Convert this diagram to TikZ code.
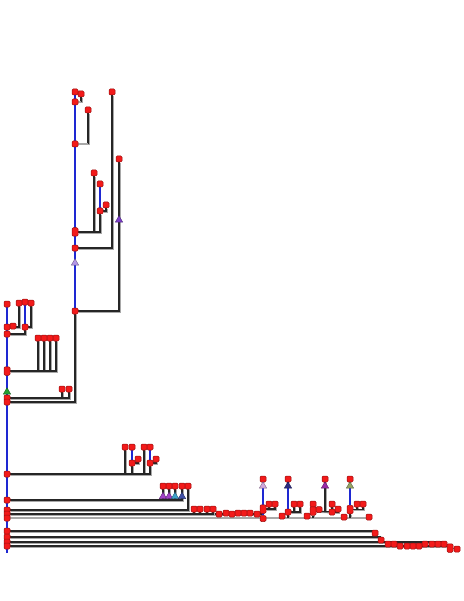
\documentclass[tikz,border=0pt]{standalone}
\usetikzlibrary{shapes.geometric, backgrounds}

\definecolor{leafRed}{HTML}{F21A1A}
\definecolor{leafRim}{HTML}{9A1010}
\definecolor{branchBlue}{HTML}{1E28D2}
\definecolor{branchDark}{HTML}{262626}
\definecolor{branchShade}{HTML}{A8A8A8}
\definecolor{triPurple}{HTML}{7A3CC8}
\definecolor{triLilac}{HTML}{B496E6}
\definecolor{triGreen}{HTML}{22A030}
\definecolor{triViolet}{HTML}{A040C8}
\definecolor{triTeal}{HTML}{3CA0C8}
\definecolor{triBlue}{HTML}{4050A8}
\definecolor{triPink}{HTML}{D2A6DC}
\definecolor{triNavy}{HTML}{2C2C80}
\definecolor{triMagenta}{HTML}{9A2AA8}
\definecolor{triOlive}{HTML}{96A464}

\tikzset{
  leaf/.style={rectangle, rounded corners=1.2pt, fill=leafRed, draw=leafRim, line width=0.5pt, minimum size=6pt, inner sep=0pt},
  hub/.style={leaf, minimum height=8.5pt},
  tri/.style={regular polygon, regular polygon sides=3, minimum size=8.5pt, inner sep=0pt, fill=#1, draw=#1!60!black, line width=0.4pt},
  br/.style={draw=branchDark, line width=1.3pt, preaction={draw=branchShade, line width=1.3pt, transform canvas={xshift=0.9pt, yshift=-0.9pt}}},
  bb/.style={draw=branchBlue, line width=1.3pt},
  bg/.style={draw=branchShade, line width=1.3pt},
}

\begin{document}
\begin{tikzpicture}[x=1pt, y=-1pt]
    \useasboundingbox (0,0) rectangle (463,601);

    % upper clade
    \node[leaf] (a0) at (75,92) {};
    \node[leaf] (a1) at (81,94) {};
    \node[leaf] (a2) at (75,102) {};
    \node[leaf] (a3) at (88,110) {};
    \node[leaf] (a4) at (75,144) {};
    \node[leaf] (a5) at (112,92) {};
    \node[leaf] (a6) at (119,159) {};
    \node[tri=triPurple] (a7) at (119,220) {};
    \node[leaf] (a8) at (94,173) {};
    \node[leaf] (a9) at (100,184) {};
    \node[leaf] (a10) at (106,205) {};
    \node[leaf] (a11) at (100,211) {};
    \node[hub] (a12) at (75,232) {};
    \node[leaf] (a13) at (75,248) {};
    \node[tri=triLilac] (a14) at (75,263) {};
    \node[leaf] (a15) at (75,311) {};

    % trunk
    \node[leaf] (k0) at (7,304) {};
    \node[leaf] (k1) at (7,327) {};
    \node[leaf] (k2) at (7,334) {};
    \node[hub] (k4) at (7,371) {};
    \node[tri=triGreen] (k5) at (7,392) {};
    \node[leaf] (k6) at (7,398) {};
    \node[leaf] (k3) at (7,402) {};
    \node[leaf] (k7) at (7,474) {};
    \node[leaf] (k8) at (7,500) {};
    \node[leaf] (k9) at (7,510) {};
    \node[leaf] (k10) at (7,514) {};
    \node[leaf] (k11) at (7,518) {};
    \node[leaf] (k12) at (7,531) {};
    \node[leaf] (k13) at (7,537) {};
    \node[leaf] (k14) at (7,542) {};
    \node[leaf] (k15) at (7,546) {};

    % left clade
    \node[leaf] (b1) at (19,303) {};
    \node[leaf] (b2) at (13,326) {};
    \node[leaf] (b3) at (25,302) {};
    \node[leaf] (b4) at (31,303) {};
    \node[leaf] (b5) at (25,327) {};
    \foreach \i/\x in {6/38, 7/44, 8/50, 9/56}
        \node[leaf] (b\i) at (\x,338) {};
    \node[leaf] (b10) at (62,389) {};
    \node[leaf] (b11) at (69,389) {};

    % middle clade
    \node[leaf] (c1) at (125,447) {};
    \node[leaf] (c2) at (132,447) {};
    \node[leaf] (c3) at (132,463) {};
    \node[leaf] (c4) at (138,459) {};
    \node[leaf] (c5) at (144,447) {};
    \node[leaf] (c6) at (150,447) {};
    \node[leaf] (c7) at (150,463) {};
    \node[leaf] (c8) at (156,459) {};

    % five tips
    \foreach \i/\x/\col in {1/163/triViolet, 2/169/triViolet, 3/175/triTeal, 4/182/triBlue} {
        \node[leaf] (d\i) at (\x,486) {};
        \node[tri=\col] (e\i) at (\x,496.5) {};
    }
    \node[leaf] (d5) at (188,486) {};

    % low chain
    \foreach \i/\x/\y in {1/194/509, 2/200/509, 3/207/509, 4/213/509, 5/219/514, 6/226/513,
                          7/232/514, 8/238/513, 9/244/513, 10/250/513, 11/257/514}
        \node[leaf] (f\i) at (\x,\y) {};

    % four flagged groups
    \node[leaf] (g1) at (263,479) {};
    \node[tri=triPink] (gt1) at (263,486) {};
    \node[hub] (g2) at (263,509) {};
    \node[leaf] (g3) at (269,504) {};
    \node[leaf] (g4) at (275,504) {};
    \node[leaf] (g0) at (263,518.5) {};
    \node[leaf] (g5) at (288,479) {};
    \node[tri=triNavy] (gt2) at (288,486) {};
    \node[leaf] (g6) at (288,512) {};
    \node[leaf] (g7) at (294,504) {};
    \node[leaf] (g8) at (300,504) {};
    \node[leaf] (g9) at (325,479) {};
    \node[tri=triMagenta] (gt3) at (325,486) {};
    \node[leaf] (g10) at (313,504) {};
    \node[hub] (g11) at (313,511) {};
    \node[leaf] (g12) at (319,509.5) {};
    \node[leaf] (g13) at (332,504) {};
    \node[leaf] (g14) at (332,512) {};
    \node[leaf] (g15) at (338,509) {};
    \node[leaf] (g16) at (350,479) {};
    \node[tri=triOlive] (gt4) at (350,486) {};
    \node[hub] (g17) at (350,509.5) {};
    \node[leaf] (g18) at (357,504) {};
    \node[leaf] (g19) at (363,504) {};
    \node[leaf] (h1) at (282,516) {};
    \node[leaf] (h2) at (307,516) {};
    \node[leaf] (h3) at (344,517) {};
    \node[leaf] (h4) at (369,517) {};

    % long bottom lines
    \node[leaf] (m1) at (375,533) {};
    \node[leaf] (m2) at (381,540) {};
    \foreach \i/\x/\y in {1/388/544, 2/394/544, 3/400/546, 4/407/546, 5/413/546,
                          6/419/546, 7/425/544, 8/432/544, 9/438/544, 10/444/544}
        \node[leaf] (n\i) at (\x,\y) {};
    \node[hub] (m3) at (450,548) {};
    \node[leaf] (m4) at (457,549) {};

    \begin{scope}[on background layer]
        \draw[bb] (k0) -- ([yshift=-4pt]k15.south);
        \draw[bb] (a0) -- (a15);
        \draw[br] (a1) -- (a1 |- a2);
        \draw[bg] (a1 |- a2) -- (a2);
        \draw[br] (a3) -- (a3 |- a4);
        \draw[bg] (a3 |- a4) -- (a4);
        \draw[br] (a5) |- (a13);
        \draw[br] (a6) |- (a15);
        \draw[br] (a8) |- (a12);
        \draw[bb] (a9) -- (a11);
        \draw[br] (a10) |- (a11);
        \draw[br] (a11) |- (a12);
        \draw[br] (a15) |- (k3);

        \draw[br] (b1) |- (k1);
        \draw[bb] (b3) -- (b5);
        \draw[br] (b4) |- (b5);
        \draw[br] (b5) |- (k2);
        \foreach \i in {6,...,9}
            \draw[br] (b\i) |- (k4);
        \draw[br] (b10) |- (k6);
        \draw[br] (b11) |- (k6);

        \draw[br] (c1) |- (k7);
        \draw[bb] (c2) -- (c3);
        \draw[br] (c4) |- (c3);
        \draw[br] (c3) |- (k7);
        \draw[br] (c5) |- (k7);
        \draw[bb] (c6) -- (c7);
        \draw[br] (c8) |- (c7);
        \draw[br] (c7) |- (k7);

        \foreach \i in {1,...,4}
            \draw[br] (d\i) |- (k8);
        \draw[br] (d5) |- (k9);

        \draw[br] (k10) -- (k10 -| g0);
        \foreach \i in {1,...,4}
            \draw[br] (f\i) |- (k10);
        \draw[bg] (k11) -- (k11 -| h4);

        \draw[bb] (g1) -- (g0);
        \draw[br] (g3) |- (g2);
        \draw[br] (g4) |- (g2);
        \draw[bb] (g5) -- (g6);
        \draw[br] (g7) |- (g6);
        \draw[br] (g8) |- (g6);
        \draw[br] (g6) -- (g6 |- k11);
        \draw[br] (g9) -- (g9 |- g14);
        \draw[br] (g11) -- (g14);
        \draw[br] (g10) -- (g11);
        \draw[br] (g13) -- (g14);
        \draw[br] (g15) |- (g14);
        \draw[br] (g12) -- (g11);
        \draw[br] (g11) -- (g11 |- k11);
        \draw[bb] (g16) -- (g17);
        \draw[br] (g18) |- (g17);
        \draw[br] (g19) |- (g17);
        \draw[br] (g17) -- (g17 |- k11);

        \draw[br] (k12) -| (m1);
        \draw[br] (k13) -| (m2);
        \draw[br] (k14) -- (k14 -| n10);
        \draw[br] (k15) -| (m3);
        \draw[br] (m3) -- (m4);
    \end{scope}
\end{tikzpicture}
\end{document}
